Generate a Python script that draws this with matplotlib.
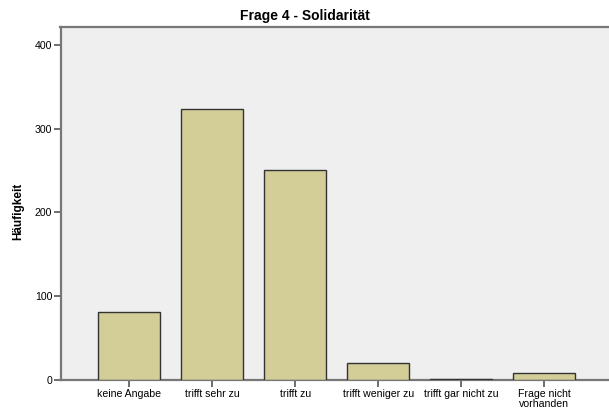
import matplotlib
matplotlib.use("Agg")
import matplotlib.pyplot as plt

categories = ["keine Angabe", "trifft sehr zu", "trifft zu", "trifft weniger zu",
              "trifft gar nicht zu", "Frage nicht\nvorhanden"]
counts = [81, 323, 250, 20, 1, 8]
yticks = [0, 100, 200, 300, 400]

plt.rcParams['font.family'] = ['Liberation Sans', 'DejaVu Sans']

fig = plt.figure(figsize=(6.09, 4.11), dpi=100)
ax = fig.add_axes([60.5/609, 1 - 379.5/411, 1 - 60.5/609, (379.5 - 27)/411])
ax.set_facecolor("#EFEFEF")

x = list(range(len(categories)))
ax.bar(x, counts, width=0.75, color="#D3CE98", edgecolor="#333333", linewidth=1.0, zorder=3)

ax.set_xlim(-0.83, 5.78)
ax.set_ylim(0, 421.5)
ax.set_yticks(yticks)
ax.set_xticks(x)
ax.set_xticklabels(categories, fontsize=7.6, linespacing=0.95)
ax.tick_params(axis='y', labelsize=7.6, length=5, width=1.2, color="#555555", pad=1)
ax.tick_params(axis='x', length=5, width=1.2, color="#555555", pad=2)

for s in ["top", "left", "bottom"]:
    ax.spines[s].set_color("#777777")
    ax.spines[s].set_linewidth(1.6)
ax.spines["right"].set_visible(False)

fig.text(0.5, 1 - 16/411, "Frage 4 - Solidarität", ha="center", va="center",
         fontsize=10, fontweight="bold")
fig.text(18/609, 1 - 211/411, "Häufigkeit", ha="center", va="center", rotation=90,
         fontsize=8.5, fontweight="bold")

fig.savefig("out.png", dpi=100)
